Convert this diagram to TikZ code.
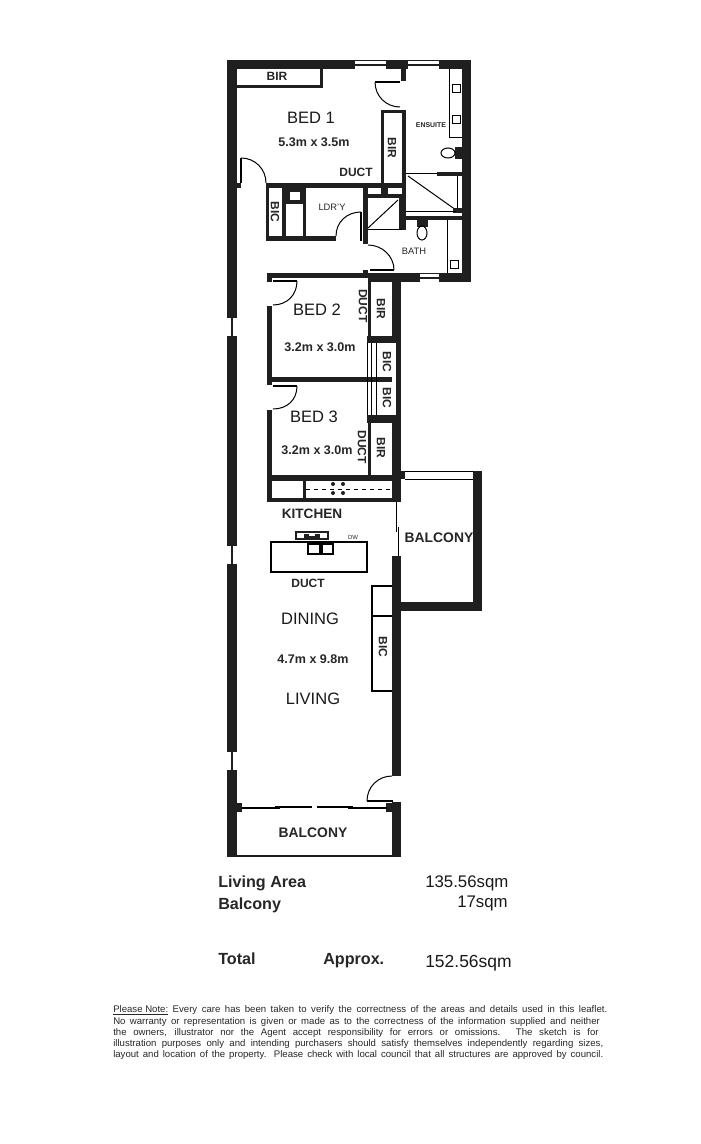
\documentclass[tikz,border=0pt]{standalone}
\usepackage{fontspec}
\setmainfont{Liberation Sans}
\usetikzlibrary{positioning}
\newcommand{\notewd}[2]{\makebox[#1pt][s]{#2}}
\begin{document}
\begin{tikzpicture}[x=0.75pt,y=-0.75pt,% plan is measured in pixels of the sheet
			every node/.style={
				align=center,
				inner sep=0pt
			},
			wall/.style={fill=black!88},
			thinline/.style={draw=black,line width=0.75pt},
			leaf/.style={draw=black,line width=1.5pt},
			pane/.style={fill=white},
			sash/.style={draw=black!88,line width=2pt},
			roomlabel/.style={font=\fontsize{12.4}{14}\selectfont,text=black!90},
			sizelabel/.style={font=\bfseries\fontsize{9.4}{11}\selectfont,text=black!85},
			tag/.style={font=\bfseries\fontsize{9}{11}\selectfont,text=black!85},
			widetag/.style={font=\bfseries\fontsize{10.4}{12}\selectfont,text=black!85},
			smalltag/.style={font=\fontsize{7}{9}\selectfont,text=black!85},
			arealabel/.style={font=\bfseries\fontsize{12.1}{14}\selectfont,anchor=base west,text=black!85},
			areavalue/.style={font=\fontsize{12.6}{14}\selectfont,anchor=base west,text=black!90},
			notelabel/.style={font=\fontsize{7.2}{8.5}\selectfont,anchor=west,text=black!85}
		]
		\useasboundingbox (0,0) rectangle (700,1144);
		% outer walls
		\fill[wall] (227,60) rectangle (237,857);
		\fill[wall] (227,60) rectangle (471,69);
		\fill[wall] (462,60) rectangle (471,282);
		\fill[wall] (368,273) rectangle (471,282);
		\fill[wall] (267,273) rectangle (368,278);
		\fill[wall] (392,273) rectangle (401,502);
		\fill[wall] (392,556) rectangle (401,776);
		\fill[wall] (392,802) rectangle (401,857);
		\fill[wall] (227,855) rectangle (401,857);
		% windows
		\fill[pane] (227,318) rectangle (237,336);
		\fill[pane] (227,546) rectangle (237,564);
		\fill[pane] (227,752) rectangle (237,770);
		\fill[pane] (355,61) rectangle (386,69);
		\fill[pane] (408,61) rectangle (439,69);
		\fill[pane] (420,274) rectangle (439,282);
		\draw[sash] (232,318) -- (232,336);
		\draw[sash] (232,546) -- (232,564);
		\draw[sash] (232,752) -- (232,770);
		\draw[sash] (355,65) -- (386,65);
		\draw[sash] (408,65) -- (439,65);
		\draw[sash] (420,278) -- (439,278);
		% bed 1
		\fill[wall] (237,85) rectangle (323,88);
		\fill[wall] (320,69) rectangle (323,88);
		\fill[wall] (401,69) rectangle (406,81);
		\fill[wall] (381,110) rectangle (406,113);
		\fill[wall] (381,110) rectangle (384,188);
		\fill[wall] (402,110) rectangle (406,198);
		\fill[wall] (237,183) rectangle (241,188);
		\fill[wall] (266,183) rectangle (402,188);
		\draw[leaf] (375,82) -- (400,82);
		\draw[thinline] (375,82) .. controls (375,96) and (386,107) .. (400,107);
		\draw[leaf] (241,158) -- (241,183);
		\draw[thinline] (241,158) .. controls (255,158) and (266,169) .. (266,183);
		% laundry and linen
		\fill[wall] (266,183) rectangle (269,241);
		\fill[wall] (266,236) rectangle (336,241);
		\fill[wall] (282,188) rectangle (286,236);
		\fill[wall] (303,188) rectangle (306,236);
		\fill[wall] (286,188) rectangle (303,204);
		\fill[white] (290,192) rectangle (300,200);
		\draw[thinline] (336,236) .. controls (336,222) and (347,212) .. (361,212);
		\draw[leaf] (361,212) -- (361,241);
		\fill[wall] (363,188) rectangle (368,244);
		% duct cupboard
		\fill[wall] (363,194) rectangle (402,198);
		\fill[wall] (381,188) rectangle (388,198);
		\fill[wall] (399,198) rectangle (406,230);
		\draw[thinline] (368,230) -- (402,230);
		\draw[thinline] (368,228) -- (398,200);
		% ensuite
		\draw[thinline] (449,69) -- (449,138) -- (462,138);
		\draw[thinline] (452,85) rectangle (460,93);
		\draw[thinline] (452,116) rectangle (460,124);
		\fill[wall] (455,147) rectangle (462,159);
		\draw[thinline] (448,153) ellipse (7 and 5);
		\draw[thinline] (406,174) -- (437,174);
		\fill[wall] (437,172) rectangle (462,176);
		\draw[thinline] (408,176) -- (456,210);
		\draw[thinline] (457,176) -- (457,212);
		\fill[wall] (453,208) rectangle (462,213);
		\draw[thinline] (406,212) -- (456,212);
		\fill[wall] (406,216) rectangle (462,220);
		% bath
		\fill[wall] (417,220) rectangle (428,227);
		\draw[thinline] (422,233) ellipse (5 and 7);
		\draw[thinline] (447,220) -- (447,273);
		\draw[thinline] (450,261) rectangle (458,269);
		\draw[thinline] (368,245) .. controls (382,245) and (394,256) .. (394,270);
		\draw[leaf] (370,270) -- (394,270);
		\fill[wall] (363,270) rectangle (368,278);
		% bed 2 and bed 3
		\fill[wall] (267,273) rectangle (272,282);
		\fill[wall] (267,306) rectangle (272,385);
		\fill[wall] (267,410) rectangle (272,502);
		\fill[wall] (267,377) rectangle (396,382);
		\fill[wall] (368,278) rectangle (371,336);
		\fill[wall] (367,336) rectangle (401,343);
		\fill[wall] (367,415) rectangle (401,423);
		\fill[wall] (368,423) rectangle (371,475);
		\fill[white] (392,343) rectangle (396,415);
		\draw[thinline] (367,343) -- (367,415);
		\draw[thinline] (371,343) -- (371,415);
		\draw[thinline] (376,343) -- (376,415);
		\draw[leaf] (273,281) -- (297,281);
		\draw[thinline] (297,281) .. controls (297,295) and (287,305) .. (273,305);
		\draw[leaf] (273,386) -- (297,386);
		\draw[thinline] (297,386) .. controls (297,400) and (287,409) .. (273,409);
		% kitchen
		\fill[wall] (267,475) rectangle (392,481);
		\fill[wall] (267,498) rectangle (395,502);
		\fill[wall] (303,481) rectangle (306,498);
		\draw[thinline,dashed] (306,489) -- (392,489);
		\fill[wall] (333,484) circle (2);
		\fill[wall] (343,484) circle (2);
		\fill[wall] (333,493) circle (2);
		\fill[wall] (343,493) circle (2);
		\draw[leaf] (271,542) rectangle (367,572);
		\draw[leaf] (308,544) rectangle (320,554);
		\draw[leaf] (322,544) rectangle (333,554);
		\fill[wall] (295,531) rectangle (329,540);
		\fill[white] (297,533) rectangle (327,538);
		\fill[wall] (304,534) rectangle (320,538);
		\fill[white] (309,534) rectangle (315,536);
		% side balcony
		\draw[thinline] (396,502) -- (396,532);
		\draw[thinline] (398,527) -- (398,556);
		\fill[wall] (392,471) rectangle (405,479);
		\draw[thinline] (405,471.5) -- (473,471.5);
		\draw[thinline] (405,479) -- (473,479);
		\fill[wall] (473,471) rectangle (482,611);
		\fill[wall] (401,602) rectangle (482,611);
		% living cupboard
		\draw[leaf] (392,586) -- (372,586) -- (372,691) -- (392,691);
		\draw[leaf] (372,616) -- (392,616);
		% living door and sliding door
		\draw[thinline] (392,776) .. controls (378,776) and (367,787) .. (367,801);
		\draw[leaf] (367,801) -- (393,801);
		\fill[wall] (237,803) rectangle (242,812);
		\fill[wall] (386,803) rectangle (392,812);
		\draw[leaf] (242,808) -- (280,808);
		\draw[leaf] (275,807) -- (312,807);
		\draw[leaf] (317,807) -- (353,807);
		\draw[leaf] (348,808) -- (387,808);
		% room labels
		\node[tag](BIRtop) at (277,76){BIR};
		\node[roomlabel](BEDone) at (311,118){BED 1};
		\node[sizelabel](SIZEone) at (314,142){5.3m x 3.5m};
		\node[tag,rotate=-90](BIRone) at (392,148){BIR};
		\node[tag](DUCTone) at (356,172){DUCT};
		\node[tag,font=\bfseries\fontsize{5.2}{7}\selectfont](ENSUITE) at (431,125){ENSUITE};
		\node[tag,rotate=-90](BIClinen) at (275,212){BIC};
		\node[smalltag](LDRY) at (332,207){LDR'Y};
		\node[smalltag](BATH) at (414,251){BATH};
		\node[roomlabel](BEDtwo) at (317,310){BED 2};
		\node[sizelabel](SIZEtwo) at (320,347){3.2m x 3.0m};
		\node[tag,rotate=-90](DUCTtwo) at (363,306){DUCT};
		\node[tag,rotate=-90](BIRtwo) at (381,309){BIR};
		\node[tag,rotate=-90](BICtwo) at (387,362){BIC};
		\node[tag,rotate=-90](BICthree) at (387,398){BIC};
		\node[roomlabel](BEDthree) at (314,417){BED 3};
		\node[sizelabel](SIZEthree) at (317,450){3.2m x 3.0m};
		\node[tag,rotate=-90](DUCTthree) at (362,447){DUCT};
		\node[tag,rotate=-90](BIRthree) at (381,448){BIR};
		\node[widetag,font=\bfseries\fontsize{10.2}{12}\selectfont](KITCHEN) at (312,514){KITCHEN};
		\node[widetag](BALCONYside) at (439,538){BALCONY};
		\node[smalltag,font=\fontsize{4.5}{6}\selectfont](DW) at (353,537){DW};
		\node[tag](DUCTkitchen) at (308,583){DUCT};
		\node[roomlabel](DINING) at (310,619){DINING};
		\node[sizelabel](SIZEliving) at (313,659){4.7m x 9.8m};
		\node[tag,rotate=-90](BICliving) at (383,647){BIC};
		\node[roomlabel](LIVING) at (313,699){LIVING};
		\node[widetag](BALCONYend) at (313,833){BALCONY};
		% areas
		\node[arealabel](AREAlabel) at (218,887){Living Area};
		\node[arealabel](BALClabel) at (218,909){Balcony};
		\node[arealabel](TOTALlabel) at (218,964){Total};
		\node[arealabel](APPROXlabel) at (323,964){Approx.};
		\node[areavalue](AREAvalue) at (425,887){135.56sqm};
		\node[areavalue,anchor=base east](BALCvalue) at (508,907){17sqm};
		\node[areavalue,font=\fontsize{13.1}{15}\selectfont](TOTALvalue) at (425,967){152.56sqm};
		% note
		\node[notelabel](NOTEa) at (113,1010){\notewd{370.5}{\underline{Please Note:} Every care has been taken to verify the correctness of the areas and details used in this leaflet.}};
		\node[notelabel](NOTEb) at (113,1022){\notewd{365}{No warranty or representation is given or made as to the correctness of the information supplied and neither}};
		\node[notelabel](NOTEc) at (113,1033){\notewd{364}{the owners, illustrator nor the Agent accept responsibility for errors or omissions. The sketch is for}};
		\node[notelabel](NOTEd) at (113,1044){\notewd{367.5}{illustration purposes only and intending purchasers should satisfy themselves independently regarding sizes,}};
		\node[notelabel](NOTEe) at (113,1055){\notewd{367.5}{layout and location of the property. Please check with local council that all structures are approved by council.}};
	\end{tikzpicture}
\end{document}
